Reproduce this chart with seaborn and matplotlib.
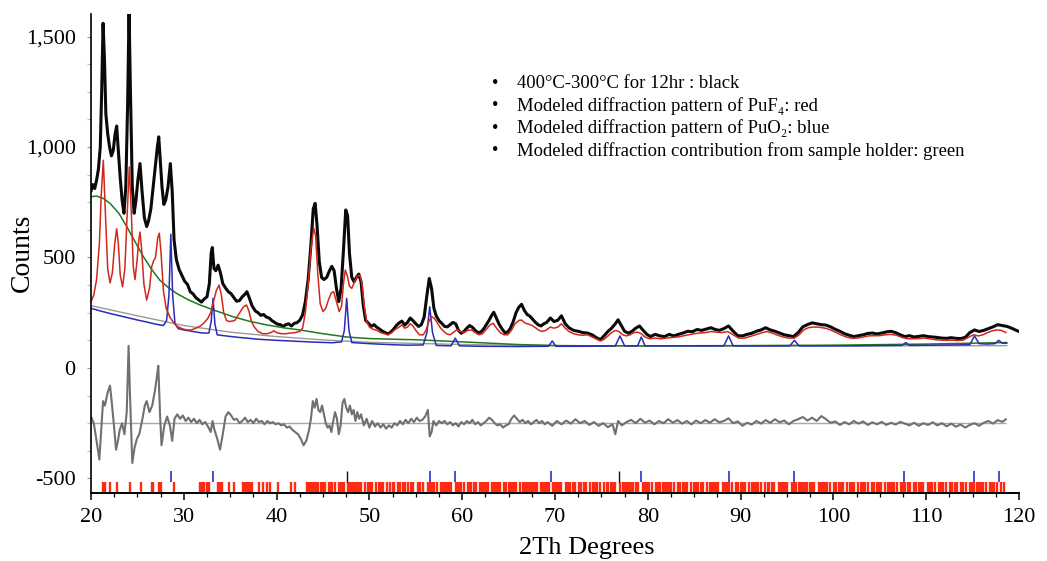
import matplotlib
matplotlib.use("Agg")
import matplotlib.pyplot as plt
import seaborn as sns
import pandas as pd
from matplotlib.ticker import MultipleLocator, FuncFormatter

# ---------------- data ----------------
# observed pattern (black): (2theta, counts)
observed = [
    (20.0, 800), (20.2, 830), (20.4, 812), (20.6, 850), (20.8, 900), (21.0, 1000), (21.15, 1250),
    (21.3, 1560), (21.45, 1400), (21.6, 1150), (21.8, 1060), (22.0, 1000), (22.2, 960), (22.4, 985),
    (22.6, 1060), (22.77, 1095), (22.95, 980), (23.15, 860), (23.35, 760), (23.55, 700), (23.75, 820),
    (23.95, 1200), (24.1, 1620), (24.25, 1250), (24.45, 820), (24.65, 700), (24.85, 760), (25.05, 850),
    (25.28, 925), (25.5, 800), (25.75, 680), (26.0, 640), (26.2, 665), (26.45, 720), (26.7, 820),
    (26.95, 920), (27.15, 1000), (27.3, 1046), (27.45, 950), (27.65, 820), (27.85, 740), (28.05, 760),
    (28.3, 820), (28.55, 925), (28.75, 800), (28.95, 580), (29.2, 490), (29.5, 445), (29.8, 418),
    (30.1, 392), (30.4, 378), (30.7, 345), (31.0, 335), (31.3, 318), (31.6, 308), (31.9, 298),
    (32.2, 312), (32.5, 322), (32.75, 380), (32.95, 520), (33.07, 545), (33.25, 450), (33.45, 440),
    (33.7, 465), (33.95, 430), (34.2, 382), (34.5, 362), (34.8, 345), (35.1, 336), (35.4, 318),
    (35.7, 302), (36.0, 305), (36.3, 322), (36.55, 332), (36.8, 345), (37.05, 318), (37.35, 282),
    (37.7, 258), (38.0, 250), (38.3, 238), (38.6, 242), (38.9, 230), (39.2, 226), (39.5, 214),
    (39.8, 206), (40.1, 198), (40.4, 196), (40.7, 188), (41.0, 196), (41.3, 200), (41.6, 190),
    (41.9, 202), (42.2, 205), (42.5, 216), (42.8, 240), (43.1, 300), (43.4, 400), (43.7, 560),
    (43.95, 720), (44.15, 745), (44.35, 650), (44.6, 480), (44.85, 410), (45.1, 400), (45.4, 410),
    (45.7, 440), (45.95, 460), (46.2, 440), (46.45, 360), (46.7, 300), (46.95, 360), (47.2, 530),
    (47.45, 715), (47.65, 690), (47.85, 520), (48.1, 410), (48.35, 390), (48.6, 410), (48.85, 425),
    (49.1, 390), (49.35, 280), (49.6, 215), (49.9, 202), (50.2, 188), (50.5, 196), (50.8, 184),
    (51.1, 176), (51.4, 166), (51.7, 160), (52.0, 154), (52.3, 162), (52.6, 175), (52.9, 192),
    (53.2, 204), (53.5, 212), (53.8, 194), (54.1, 206), (54.4, 226), (54.7, 214), (55.0, 200),
    (55.3, 188), (55.6, 196), (55.9, 230), (56.2, 330), (56.45, 405), (56.7, 360), (56.95, 270),
    (57.2, 236), (57.5, 214), (57.8, 202), (58.1, 188), (58.4, 186), (58.7, 196), (59.0, 206),
    (59.3, 200), (59.6, 170), (59.9, 157), (60.2, 166), (60.5, 180), (60.8, 192), (61.1, 184),
    (61.4, 170), (61.7, 160), (62.0, 162), (62.3, 176), (62.6, 196), (62.9, 216), (63.2, 240),
    (63.4, 252), (63.7, 224), (64.0, 196), (64.3, 176), (64.6, 160), (64.9, 162), (65.2, 180),
    (65.5, 210), (65.8, 250), (66.1, 275), (66.4, 288), (66.7, 260), (67.0, 242), (67.3, 234),
    (67.6, 220), (67.9, 206), (68.2, 195), (68.5, 190), (68.8, 200), (69.1, 206), (69.5, 226),
    (69.9, 210), (70.3, 216), (70.7, 236), (71.1, 200), (71.5, 182), (72.0, 170), (72.5, 166),
    (73.0, 160), (73.5, 158), (74.0, 150), (74.5, 136), (74.9, 128), (75.3, 146), (75.7, 165),
    (76.1, 180), (76.5, 200), (76.8, 218), (77.1, 195), (77.5, 166), (77.9, 157), (78.3, 166),
    (78.7, 180), (79.1, 190), (79.5, 170), (79.9, 152), (80.3, 142), (80.8, 152), (81.3, 145),
    (81.8, 142), (82.3, 152), (82.8, 145), (83.3, 152), (83.8, 158), (84.3, 166), (84.8, 164),
    (85.3, 174), (85.8, 170), (86.3, 176), (86.8, 182), (87.2, 175), (87.7, 170), (88.2, 178),
    (88.7, 190), (89.2, 166), (89.7, 146), (90.2, 145), (90.7, 152), (91.2, 157), (91.7, 166),
    (92.2, 172), (92.7, 182), (93.2, 172), (93.7, 166), (94.2, 158), (94.7, 150), (95.2, 146),
    (95.7, 142), (96.2, 160), (96.7, 186), (97.2, 196), (97.7, 204), (98.2, 200), (98.7, 196),
    (99.2, 194), (99.7, 186), (100.2, 175), (100.7, 166), (101.2, 155), (101.7, 148), (102.2, 142),
    (102.7, 146), (103.2, 150), (103.7, 156), (104.2, 158), (104.7, 154), (105.2, 158), (105.7, 163),
    (106.2, 166), (106.7, 160), (107.2, 150), (107.7, 142), (108.2, 146), (108.7, 140), (109.2, 143),
    (109.7, 146), (110.2, 142), (110.7, 140), (111.2, 138), (111.7, 135), (112.2, 134), (112.7, 137),
    (113.2, 134), (113.7, 133), (114.2, 138), (114.7, 160), (115.2, 172), (115.7, 165), (116.2, 170),
    (116.7, 178), (117.2, 186), (117.7, 196), (118.2, 192), (118.7, 188), (119.2, 180), (119.6, 172),
    (120.0, 165),
]

# modeled PuF4 pattern (red)
puf4_model = [
    (20.0, 300), (20.3, 330), (20.6, 400), (20.9, 560), (21.1, 780), (21.33, 940), (21.55, 700),
    (21.8, 450), (22.05, 385), (22.3, 430), (22.55, 560), (22.77, 630), (22.95, 560), (23.15, 420),
    (23.4, 367), (23.65, 450), (23.9, 700), (24.13, 910), (24.35, 700), (24.55, 460), (24.74, 400),
    (24.95, 480), (25.15, 580), (25.28, 615), (25.45, 540), (25.7, 380), (26.0, 307), (26.3, 360),
    (26.55, 460), (26.75, 485), (26.95, 500), (27.2, 590), (27.36, 610), (27.55, 520), (27.8, 350),
    (28.1, 270), (28.5, 230), (28.9, 205), (29.3, 188), (29.8, 178), (30.3, 172), (30.8, 172),
    (31.3, 180), (31.8, 190), (32.2, 205), (32.6, 225), (32.9, 250), (33.2, 300), (33.5, 350),
    (33.8, 375), (34.05, 330), (34.3, 250), (34.6, 215), (34.9, 210), (35.2, 212), (35.5, 215),
    (35.8, 235), (36.1, 255), (36.4, 275), (36.75, 285), (37.0, 260), (37.3, 210), (37.6, 185),
    (38.0, 165), (38.5, 155), (39.0, 155), (39.4, 160), (39.7, 168), (40.0, 160), (40.5, 155),
    (41.0, 155), (41.5, 158), (42.0, 160), (42.5, 165), (42.8, 180), (43.1, 250), (43.4, 380),
    (43.7, 540), (44.0, 633), (44.2, 600), (44.45, 420), (44.7, 290), (45.0, 255), (45.3, 270),
    (45.6, 310), (45.9, 340), (46.15, 345), (46.45, 300), (46.75, 255), (47.0, 280), (47.2, 380),
    (47.4, 443), (47.6, 420), (47.85, 370), (48.1, 360), (48.4, 390), (48.7, 415), (49.0, 420),
    (49.2, 380), (49.45, 280), (49.7, 210), (50.0, 185), (50.4, 175), (50.8, 170), (51.2, 160),
    (51.6, 155), (52.0, 150), (52.4, 160), (52.8, 175), (53.2, 185), (53.5, 195), (53.8, 180),
    (54.1, 185), (54.4, 200), (54.7, 190), (55.0, 170), (55.4, 150), (55.8, 150), (56.1, 170),
    (56.4, 210), (56.7, 232), (57.0, 225), (57.3, 205), (57.6, 185), (57.9, 170), (58.3, 155),
    (58.7, 150), (59.0, 160), (59.4, 172), (59.8, 165), (60.2, 160), (60.6, 170), (61.0, 172),
    (61.4, 160), (61.8, 150), (62.2, 155), (62.6, 175), (63.0, 195), (63.35, 202), (63.7, 180),
    (64.1, 160), (64.5, 150), (64.9, 150), (65.3, 170), (65.7, 200), (66.1, 215), (66.4, 217),
    (66.7, 205), (67.0, 200), (67.4, 195), (67.8, 185), (68.2, 172), (68.6, 165), (69.0, 170),
    (69.5, 185), (69.9, 180), (70.3, 185), (70.7, 200), (71.1, 180), (71.5, 165), (72.0, 155),
    (72.5, 150), (73.0, 148), (73.5, 150), (74.0, 140), (74.5, 130), (74.9, 122), (75.3, 130),
    (75.7, 145), (76.1, 160), (76.5, 170), (76.9, 165), (77.3, 150), (77.7, 145), (78.1, 150),
    (78.5, 160), (78.9, 162), (79.3, 155), (79.7, 140), (80.2, 132), (80.8, 135), (81.4, 132),
    (82.0, 135), (82.6, 138), (83.2, 140), (83.8, 145), (84.4, 150), (85.0, 155), (85.6, 158),
    (86.2, 160), (86.8, 165), (87.4, 162), (88.0, 160), (88.6, 165), (89.2, 150), (89.8, 135),
    (90.4, 135), (91.0, 142), (91.6, 150), (92.2, 158), (92.8, 165), (93.4, 158), (94.0, 148),
    (94.6, 140), (95.2, 135), (95.8, 135), (96.3, 150), (96.8, 172), (97.3, 182), (97.8, 185),
    (98.3, 185), (98.8, 182), (99.3, 178), (99.8, 170), (100.3, 160), (100.8, 150), (101.4, 140),
    (102.0, 134), (102.6, 135), (103.2, 140), (103.8, 145), (104.4, 146), (105.0, 146), (105.6, 150),
    (106.2, 152), (106.8, 148), (107.4, 138), (108.0, 132), (108.6, 132), (109.2, 133), (109.8, 135),
    (110.4, 132), (111.0, 128), (111.6, 126), (112.2, 125), (112.8, 126), (113.4, 124), (114.0, 126),
    (114.6, 140), (115.1, 150), (115.6, 145), (116.1, 150), (116.6, 160), (117.1, 168), (117.6, 172),
    (118.1, 170), (118.6, 160),
]

# modeled PuO2 pattern (blue)
puo2_model = [
    (20.0, 270), (21.0, 258), (22.0, 247), (23.0, 237), (24.0, 227), (25.0, 217), (26.0, 208),
    (27.0, 198), (27.8, 192), (28.15, 215), (28.4, 330), (28.6, 605), (28.8, 330), (29.05, 200),
    (29.4, 178), (30.0, 172), (31.0, 165), (32.0, 158), (32.7, 158), (32.95, 210), (33.15, 315),
    (33.35, 200), (33.6, 150), (34.5, 145), (36.0, 138), (38.0, 130), (40.0, 125), (42.0, 121),
    (44.0, 117), (46.0, 114), (47.0, 118), (47.3, 170), (47.55, 315), (47.8, 170), (48.1, 115),
    (50.0, 110), (52.0, 106), (54.0, 103), (55.8, 104), (56.2, 160), (56.5, 277), (56.8, 160),
    (57.2, 102), (58.8, 100), (59.25, 135), (59.7, 100), (62.0, 98), (66.0, 97), (69.3, 98),
    (69.7, 122), (70.1, 98), (73.0, 98), (76.5, 100), (77.0, 145), (77.5, 100), (78.9, 100),
    (79.3, 140), (79.7, 100), (85.0, 100), (88.2, 100), (88.7, 145), (89.2, 100), (95.3, 100),
    (95.8, 125), (96.3, 100), (102.0, 100), (107.4, 102), (107.8, 115), (108.2, 102), (114.7, 105),
    (115.2, 145), (115.7, 110), (116.5, 108), (117.4, 110), (117.8, 125), (118.2, 112), (118.7, 112),
]

# modeled sample-holder contribution (green)
holder_model = [
    (20.0, 775), (20.6, 778), (21.3, 768), (22.05, 745), (23.0, 700), (23.85, 640), (24.7, 575),
    (25.64, 504), (26.5, 448), (27.4, 398), (28.3, 365), (29.2, 338), (30.5, 308), (31.75, 285),
    (33.5, 258), (35.3, 232), (37.0, 212), (38.9, 195), (40.7, 182), (42.5, 172), (45.0, 155),
    (47.55, 140), (50.0, 133), (52.5, 130), (54.7, 128), (57.0, 124), (60.0, 118), (63.0, 112),
    (66.0, 106), (70.5, 101), (75.0, 100), (80.0, 100), (90.0, 101), (100.0, 103), (110.0, 108),
    (118.7, 115),
]

# refined background (light grey)
background = [
    (20.0, 282), (25.0, 236), (30.0, 192), (35.0, 162), (40.0, 142), (45.0, 127), (50.0, 116),
    (60.0, 106), (70.0, 101), (90.0, 99), (118.7, 101),
]

# difference curve (obs - calc), drawn around an offset of -250
difference = [
    (20.0, -220), (20.3, -250), (20.6, -330), (20.9, -415), (21.1, -280), (21.3, -150), (21.5, -170),
    (21.8, -110), (22.05, -80), (22.25, -160), (22.45, -250), (22.7, -370), (22.9, -330), (23.1, -280),
    (23.35, -250), (23.6, -300), (23.85, -200), (24.05, 100), (24.2, -120), (24.45, -430), (24.7, -360),
    (24.95, -320), (25.2, -300), (25.5, -240), (25.8, -170), (26.0, -150), (26.3, -200), (26.6, -170),
    (26.9, -100), (27.1, -40), (27.25, 10), (27.45, -220), (27.6, -350), (27.9, -260), (28.2, -220),
    (28.5, -260), (28.75, -330), (29.0, -230), (29.3, -210), (29.6, -230), (29.9, -215), (30.2, -240),
    (30.5, -225), (30.8, -245), (31.1, -230), (31.4, -250), (31.7, -235), (32.0, -255), (32.3, -245),
    (32.6, -265), (32.9, -290), (33.1, -240), (33.3, -280), (33.6, -320), (33.9, -370), (34.2, -300),
    (34.5, -220), (34.8, -200), (35.1, -215), (35.4, -235), (35.7, -230), (36.0, -250), (36.3, -240),
    (36.6, -225), (36.9, -245), (37.2, -235), (37.5, -250), (37.8, -230), (38.1, -245), (38.4, -240),
    (38.7, -255), (39.0, -240), (39.3, -250), (39.6, -245), (39.9, -255), (40.2, -250), (40.5, -260),
    (40.8, -255), (41.1, -270), (41.4, -265), (41.7, -280), (42.0, -290), (42.3, -300), (42.6, -320),
    (42.9, -350), (43.2, -330), (43.5, -280), (43.7, -230), (43.9, -150), (44.1, -180), (44.3, -140),
    (44.5, -190), (44.7, -200), (44.9, -170), (45.1, -210), (45.3, -250), (45.5, -270), (45.7, -260),
    (45.9, -290), (46.1, -240), (46.3, -200), (46.5, -230), (46.7, -300), (46.9, -260), (47.1, -160),
    (47.3, -140), (47.5, -180), (47.7, -200), (47.9, -170), (48.1, -210), (48.3, -190), (48.5, -240),
    (48.7, -200), (48.9, -230), (49.1, -210), (49.4, -260), (49.7, -230), (50.0, -270), (50.3, -240),
    (50.6, -265), (50.9, -250), (51.2, -270), (51.5, -255), (51.8, -275), (52.1, -260), (52.4, -270),
    (52.7, -250), (53.0, -260), (53.3, -240), (53.6, -255), (53.9, -235), (54.2, -250), (54.5, -230),
    (54.8, -245), (55.1, -225), (55.4, -240), (55.7, -235), (56.0, -220), (56.3, -190), (56.5, -310),
    (56.7, -290), (56.9, -240), (57.2, -260), (57.5, -240), (57.8, -250), (58.1, -240), (58.4, -255),
    (58.7, -245), (59.0, -260), (59.3, -250), (59.6, -265), (59.9, -245), (60.2, -255), (60.5, -240),
    (60.8, -250), (61.1, -235), (61.4, -255), (61.7, -245), (62.0, -260), (62.3, -250), (62.6, -240),
    (62.9, -225), (63.2, -235), (63.5, -250), (63.8, -260), (64.1, -255), (64.4, -270), (64.7, -260),
    (65.0, -255), (65.3, -230), (65.6, -215), (65.9, -230), (66.2, -245), (66.5, -235), (66.8, -250),
    (67.1, -240), (67.4, -255), (67.7, -245), (68.0, -235), (68.3, -250), (68.6, -240), (68.9, -255),
    (69.2, -245), (69.7, -262), (70.2, -240), (70.7, -255), (71.2, -238), (71.7, -252), (72.2, -232),
    (72.7, -250), (73.2, -240), (73.7, -258), (74.2, -245), (74.7, -262), (75.2, -250), (75.7, -268),
    (76.2, -255), (76.5, -300), (76.8, -240), (77.2, -260), (77.7, -245), (78.2, -235), (78.7, -250),
    (79.2, -230), (79.7, -248), (80.2, -238), (80.7, -255), (81.2, -240), (81.7, -250), (82.2, -232),
    (82.7, -248), (83.2, -236), (83.7, -252), (84.2, -240), (84.7, -255), (85.2, -238), (85.7, -250),
    (86.2, -236), (86.7, -248), (87.2, -232), (87.7, -246), (88.2, -240), (88.7, -228), (89.2, -250),
    (89.7, -242), (90.2, -262), (90.7, -248), (91.2, -256), (91.7, -240), (92.2, -252), (92.7, -236),
    (93.2, -248), (93.7, -232), (94.2, -246), (94.7, -238), (95.2, -255), (95.7, -240), (96.2, -232),
    (96.7, -222), (97.2, -238), (97.7, -225), (98.2, -240), (98.7, -218), (99.2, -232), (99.7, -248),
    (100.2, -242), (100.7, -258), (101.2, -245), (101.7, -255), (102.2, -240), (102.7, -252),
    (103.2, -242), (103.7, -258), (104.2, -246), (104.7, -255), (105.2, -244), (105.7, -258),
    (106.2, -248), (106.7, -256), (107.2, -244), (107.7, -252), (108.2, -260), (108.7, -248),
    (109.2, -262), (109.7, -250), (110.2, -258), (110.7, -246), (111.2, -260), (111.7, -250),
    (112.2, -264), (112.7, -252), (113.2, -266), (113.7, -256), (114.2, -270), (114.7, -258),
    (115.2, -250), (115.7, -262), (116.2, -248), (116.7, -240), (117.2, -252), (117.7, -236),
    (118.2, -244), (118.6, -232),
]
diff_zero = -250

# reflection markers
puo2_ticks = [28.6, 33.15, 56.5, 59.25, 69.6, 79.3, 88.7, 95.75, 107.65, 115.2, 117.8]
dark_ticks = [47.6, 76.95]
puf4_ticks = [
    21.33, 21.5, 22.05, 22.77, 24.2, 25.35, 26.54, 26.72, 27.33, 27.54, 28.98, 31.75, 32.0, 32.2,
    32.45, 32.7, 33.65, 33.8, 33.95, 34.1, 34.87, 35.4, 36.34, 36.5, 36.65, 36.8, 37.0, 37.15, 37.3,
    38.1, 38.57, 38.93, 39.3, 40.2, 41.55, 41.98, 43.24, 43.4, 43.55, 43.7, 43.85, 44.0, 44.15, 44.3,
    44.5, 44.75, 45.0, 45.2, 45.6, 45.8, 46.0, 46.25, 46.7, 46.85, 47.05, 47.3, 47.7, 47.9, 48.1,
    48.3, 48.45, 48.7, 48.9, 49.1, 49.5, 49.85, 50.1, 50.3, 50.75, 51.0, 51.3, 51.5, 51.9, 52.25,
    52.5, 52.65, 53.1, 53.3, 53.6, 53.8, 54.2, 54.5, 54.7, 55.2, 55.5, 55.8, 56.35, 56.55, 56.75,
    57.0, 57.3, 57.7, 57.95, 58.15, 58.35, 58.6, 58.8, 59.3, 59.5, 59.7, 59.9, 60.15, 60.6, 60.8,
    61.0, 61.25, 61.45, 61.9, 62.1, 62.35, 62.55, 62.8, 63.2, 63.45, 63.65, 63.9, 64.1, 64.55, 64.75,
    65.0, 65.2, 65.4, 65.6, 65.85, 66.25, 66.5, 66.7, 66.9, 67.1, 67.3, 67.5, 67.7, 67.9, 68.1, 68.5,
    68.75, 68.95, 69.15, 69.35, 69.8, 70.0, 70.2, 70.45, 70.7, 71.2, 71.4, 71.65, 71.9, 72.15, 72.6,
    72.85, 73.1, 73.35, 73.8, 74.05, 74.3, 74.55, 74.8, 75.3, 75.55, 75.75, 76.0, 76.25, 76.5, 77.05,
    77.3, 77.5, 77.75, 78.0, 78.2, 78.45, 78.7, 78.95, 79.45, 79.7, 79.9, 80.15, 80.4, 80.9, 81.1,
    81.35, 81.6, 81.85, 82.1, 82.3, 82.55, 82.8, 83.3, 83.5, 83.75, 84.0, 84.25, 84.7, 84.95, 85.2,
    85.45, 85.7, 85.9, 86.4, 86.65, 86.9, 87.1, 87.35, 87.6, 88.1, 88.3, 88.55, 88.8, 89.05, 89.5,
    89.75, 90.0, 90.25, 90.5, 90.95, 91.2, 91.45, 91.7, 91.9, 92.15, 92.65, 92.9, 93.1, 93.35, 93.6,
    94.1, 94.3, 94.55, 94.8, 95.05, 95.5, 95.75, 96.0, 96.25, 96.5, 96.7, 96.95, 97.2, 97.45, 97.7,
    97.9, 98.4, 98.65, 98.9, 99.1, 99.35, 99.6, 100.1, 100.3, 100.55, 100.8, 101.05, 101.5, 101.75,
    102.0, 102.25, 102.7, 102.95, 103.2, 103.45, 103.7, 104.15, 104.4, 104.65, 104.9, 105.1, 105.6,
    105.85, 106.1, 106.3, 106.55, 106.8, 107.3, 107.5, 107.75, 108.0, 108.25, 108.7, 108.95, 109.2,
    109.45, 109.7, 110.15, 110.4, 110.65, 110.9, 111.35, 111.6, 111.85, 112.1, 112.55, 112.8, 113.05,
    113.3, 113.75, 114.0, 114.25, 114.7, 114.95, 115.2, 115.45, 115.7, 115.9, 116.15, 116.4, 116.9,
    117.1, 117.35, 117.6, 118.1, 118.4,
]
puf4_tick_span = (-566, -518)
puo2_tick_span = (-518, -466)

legend_lines = [
    "400\u00b0C-300\u00b0C for 12hr : black",
    "Modeled diffraction pattern of PuF\u2084: red",
    "Modeled diffraction pattern of PuO\u2082: blue",
    "Modeled diffraction contribution from sample holder: green",
]

x_label = "2Th Degrees"
y_label = "Counts"
x_limits = (20, 120)
y_limits = (-566, 1602)


def frame(pairs, name):
    return pd.DataFrame(pairs, columns=["two_theta", name])


# ---------------- drawing ----------------
sns.set_theme(style="ticks")
plt.rcParams["font.family"] = ["Liberation Serif", "DejaVu Serif"]
plt.rcParams["axes.unicode_minus"] = False

W, H = 1047, 561
fig = plt.figure(figsize=(W / 100, H / 100), dpi=100)
ax = fig.add_axes([91 / W, 1 - 493 / H, 928 / W, 479 / H])

obs = frame(observed, "counts")
red = frame(puf4_model, "counts")
blue = frame(puo2_model, "counts")
green = frame(holder_model, "counts")
bg = frame(background, "counts")
dif = frame(difference, "counts")

kw = dict(x="two_theta", y="counts", estimator=None, sort=False, ax=ax, legend=False)
sns.lineplot(data=obs, color="#0a0a0a", linewidth=2.2, **kw)
sns.lineplot(data=bg, color="#9a9a9a", linewidth=1.0, **kw)
sns.lineplot(data=green, color="#1f7a1f", linewidth=1.1, **kw)
sns.lineplot(data=blue, color="#2b2bb8", linewidth=1.1, **kw)
sns.lineplot(data=red, color="#d0281c", linewidth=1.1, **kw)

ax.hlines(diff_zero, dif["two_theta"].iloc[0], dif["two_theta"].iloc[-1],
          color="#a8a8a8", linewidth=1.0, zorder=1)
sns.lineplot(data=dif, color="#707070", linewidth=1.5, **kw)

ax.vlines(puf4_ticks, *puf4_tick_span, color="#ff2a12", linewidth=1.7)
ax.vlines(puo2_ticks, *puo2_tick_span, color="#2233cc", linewidth=1.2)
ax.vlines(dark_ticks, *puo2_tick_span, color="#111111", linewidth=1.0)

ax.set_xlim(*x_limits)
ax.set_ylim(*y_limits)

ax.xaxis.set_major_locator(MultipleLocator(10))
ax.xaxis.set_minor_locator(MultipleLocator(2.5))
ax.yaxis.set_major_locator(MultipleLocator(500))
ax.yaxis.set_minor_locator(MultipleLocator(125))
ax.yaxis.set_major_formatter(FuncFormatter(lambda v, p: f"{v:,.0f}"))

for s in ("top", "right"):
    ax.spines[s].set_visible(False)
ax.spines["left"].set_linewidth(1.2)
ax.spines["bottom"].set_linewidth(1.4)
ax.spines["left"].set_color("black")
ax.spines["bottom"].set_color("black")

ax.tick_params(axis="x", which="major", length=5, width=1.1, labelsize=16, pad=6, colors="black")
ax.tick_params(axis="x", which="minor", length=3, width=0.9, colors="black")
ax.tick_params(axis="y", which="both", length=3, width=0.8, labelsize=16, pad=8,
               colors="black")
ax.tick_params(axis="y", which="minor", color="#bbbbbb")
ax.tick_params(axis="y", which="major", color="#999999")

ax.set_xlabel(x_label, fontsize=19, color="black")
ax.set_ylabel(y_label, fontsize=20, color="black")
ax.xaxis.set_label_coords((587 - 91) / 928, (493 - 548) / 479)
ax.yaxis.set_label_coords((22 - 91) / 928, (493 - 253) / 479)
ax.xaxis.label.set_va("center")
ax.yaxis.label.set_va("center")

line_y = [83.3, 106, 128.3, 150.7]
for txt, yy in zip(legend_lines, line_y):
    fig.text(495 / W, 1 - yy / H, "\u2022", fontsize=13.4, ha="center", va="center", color="black")
    fig.text(517 / W, 1 - yy / H, txt, fontsize=13.4, ha="left", va="center", color="black")

fig.savefig("out.png", dpi=100, facecolor="white")
